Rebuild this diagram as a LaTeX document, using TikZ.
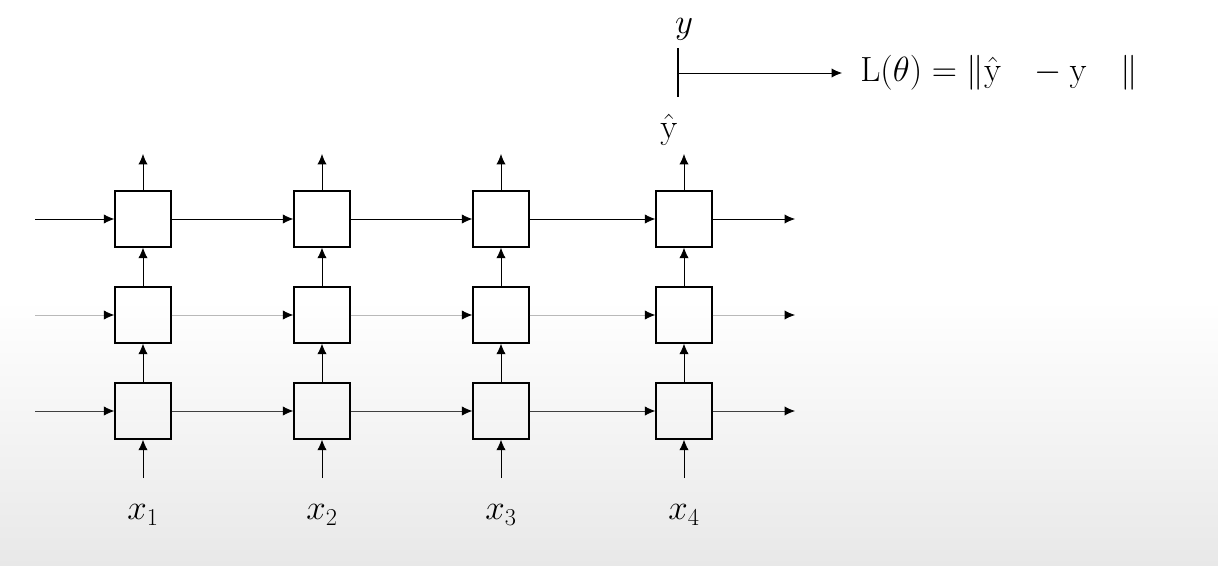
\documentclass[tikz,border=0pt]{standalone}
\usetikzlibrary{arrows.meta,positioning}

\begin{document}
\begin{tikzpicture}[x=0.025cm, y=-0.025cm,
  cell/.style={draw, minimum width=1.4cm, minimum height=1.4cm, line width=0.9pt, inner sep=0pt},
  arr/.style={-{Latex[length=2.6mm, width=2.3mm, color=black]}, line width=0.6pt},
  lbl/.style={font=\fontsize{23}{26}\selectfont, inner sep=0pt}
]
% background
\fill[white] (0,0) rectangle (1218,300);
\shade[top color=white, bottom color=gray!18] (0,300) rectangle (1218,566);

% cells
\foreach \c/\x in {1/143,2/322,3/501,4/684}{
  \foreach \r/\y in {1/219,2/315,3/411}{
    \node[cell] (c\r\c) at (\x,\y) {};
  }
  \coordinate (top\c) at (\x,154);
  \coordinate (bot\c) at (\x,478);
  \node[lbl] (x\c) at (\x,515) {$x_{\c}$};
  \draw[arr] (bot\c) -- (c3\c);
  \draw[arr] (c3\c) -- (c2\c);
  \draw[arr] (c2\c) -- (c1\c);
  \draw[arr] (c1\c) -- (top\c);
}

% recurrent connections
\foreach \r/\y/\col in {1/219/black, 2/315/gray!55, 3/411/black!75}{
  \coordinate (in\r) at (35,\y);
  \coordinate (out\r) at (795,\y);
  \draw[arr, \col] (in\r) -- (c\r1);
  \draw[arr, \col] (c\r1) -- (c\r2);
  \draw[arr, \col] (c\r2) -- (c\r3);
  \draw[arr, \col] (c\r3) -- (c\r4);
  \draw[arr, \col] (c\r4) -- (out\r);
}

% loss
\node[lbl, font=\fontsize{24}{28}\selectfont] (yhat) at (669,130) {$\hat{\mathrm{y}}$};
\node[lbl, font=\fontsize{24}{28}\selectfont] (ytrue) at (684,29) {$y$};
\coordinate (bartop) at (678,48);
\coordinate (barbot) at (678,97);
\coordinate (barmid) at (678,73);
\draw[line width=0.9pt] (bartop) -- (barbot);
\node[lbl, font=\fontsize{24}{28}\selectfont, inner xsep=0.45cm, anchor=west] (loss) at (842,73)
  {$\mathrm{L}(\theta) = \|\hat{\mathrm{y}}\hspace{0.75em} - \mathrm{y}\quad\|$};
\draw[arr] (barmid) -- (loss);
\end{tikzpicture}
\end{document}
